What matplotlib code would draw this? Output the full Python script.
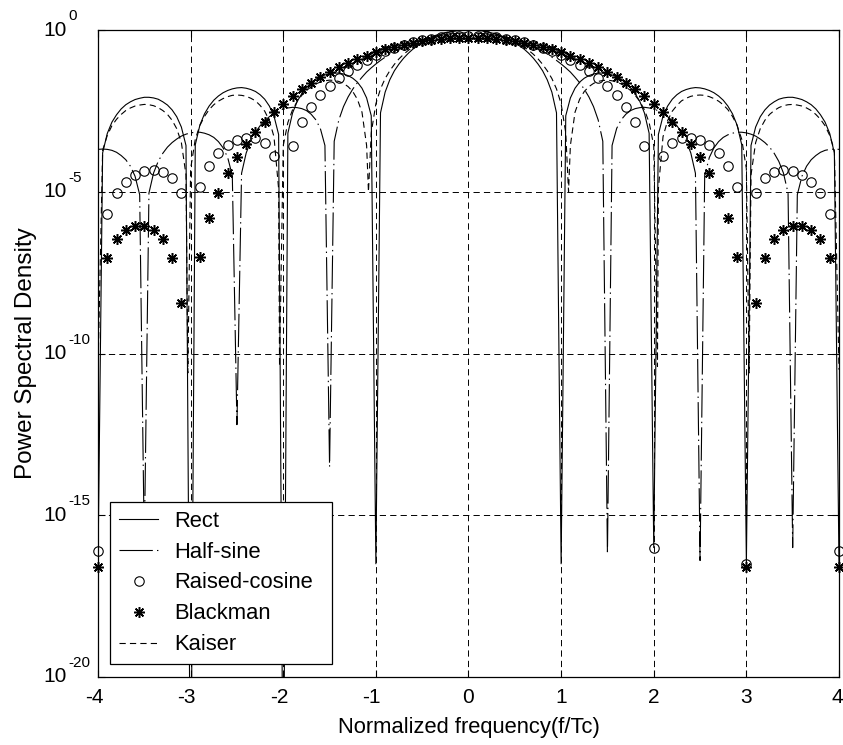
import numpy as np
import matplotlib
matplotlib.use("Agg")
import matplotlib.pyplot as plt
from matplotlib import font_manager
from matplotlib.ticker import FixedLocator, NullLocator, NullFormatter

# ---------------------------------------------------------------------------
# Data: power spectral density of chip pulse shapes, stored as log10(PSD)
# ---------------------------------------------------------------------------
# line series are sampled every 0.05 in f/Tc, marker series every 0.1
line_freq = np.round(np.linspace(-4.0, 4.0, 161), 2)
marker_freq = np.round(np.linspace(-4.0, 4.0, 81), 1)

rect_log = [
    -16.5, -3.80, -3.20, -2.85, -2.62, -2.44, -2.31, -2.22, -2.15, -2.11,
    -2.08, -2.08, -2.10, -2.14, -2.22, -2.32, -2.47, -2.68, -3.00, -3.57,
    -25.0, -3.55, -2.94, -2.59, -2.35, -2.17, -2.04, -1.94, -1.87, -1.82,
    -1.79, -1.78, -1.80, -1.84, -1.90, -2.00, -2.14, -2.35, -2.66, -3.23,
    -25.0, -3.19, -2.57, -2.21, -1.97, -1.78, -1.64, -1.53, -1.45, -1.39,
    -1.35, -1.33, -1.33, -1.36, -1.41, -1.49, -1.61, -1.80, -2.10, -2.65,
    -16.5, -2.56, -1.92, -1.54, -1.26, -1.05, -0.87, -0.72, -0.59, -0.49,
    -0.39, -0.31, -0.24, -0.18, -0.13, -0.09, -0.06, -0.03, -0.01, -0.00,
    0.00, -0.00, -0.01, -0.03, -0.06, -0.09, -0.13, -0.18, -0.24, -0.31,
    -0.39, -0.49, -0.59, -0.72, -0.87, -1.05, -1.26, -1.54, -1.92, -2.56,
    -16.5, -2.65, -2.10, -1.80, -1.61, -1.49, -1.41, -1.36, -1.33, -1.33,
    -1.35, -1.39, -1.45, -1.53, -1.64, -1.78, -1.97, -2.21, -2.57, -3.19,
    -16.0, -3.23, -2.66, -2.35, -2.14, -2.00, -1.90, -1.84, -1.80, -1.78,
    -1.79, -1.82, -1.87, -1.94, -2.04, -2.17, -2.35, -2.59, -2.94, -3.55,
    -16.5, -3.57, -3.00, -2.68, -2.47, -2.32, -2.22, -2.14, -2.10, -2.08,
    -2.08, -2.11, -2.15, -2.22, -2.31, -2.44, -2.62, -2.85, -3.20, -3.80,
    -16.5,
]

half_sine_log = [
    -3.69, -3.68, -3.69, -3.72, -3.78, -3.88, -4.01, -4.21, -4.52, -5.09,
    -16.0, -5.04, -4.42, -4.06, -3.81, -3.62, -3.48, -3.37, -3.28, -3.22,
    -3.18, -3.16, -3.16, -3.19, -3.24, -3.32, -3.45, -3.64, -3.94, -4.50,
    -12.2, -4.43, -3.80, -3.43, -3.16, -2.96, -2.80, -2.68, -2.58, -2.50,
    -2.44, -2.41, -2.39, -2.40, -2.43, -2.49, -2.60, -2.77, -3.04, -3.57,
    -13.5, -3.44, -2.78, -2.37, -2.07, -1.83, -1.63, -1.46, -1.30, -1.17,
    -1.05, -0.94, -0.84, -0.74, -0.66, -0.59, -0.52, -0.45, -0.40, -0.35,
    -0.30, -0.26, -0.22, -0.19, -0.17, -0.14, -0.12, -0.11, -0.10, -0.09,
    -0.09, -0.09, -0.10, -0.11, -0.12, -0.14, -0.17, -0.19, -0.22, -0.26,
    -0.30, -0.35, -0.40, -0.45, -0.52, -0.59, -0.66, -0.74, -0.84, -0.94,
    -1.05, -1.17, -1.30, -1.46, -1.63, -1.83, -2.07, -2.37, -2.78, -3.44,
    -16.2, -3.57, -3.04, -2.77, -2.60, -2.49, -2.43, -2.40, -2.39, -2.41,
    -2.44, -2.50, -2.58, -2.68, -2.80, -2.96, -3.16, -3.43, -3.80, -4.43,
    -16.4, -4.50, -3.94, -3.64, -3.45, -3.32, -3.24, -3.19, -3.16, -3.16,
    -3.18, -3.22, -3.28, -3.37, -3.48, -3.62, -3.81, -4.06, -4.42, -5.04,
    -16.0, -5.09, -4.52, -4.21, -4.01, -3.88, -3.78, -3.72, -3.69, -3.68,
    -3.69,
]

kaiser_log = [
    -10.5, -3.72, -3.26, -2.96, -2.76, -2.61, -2.49, -2.41, -2.35, -2.32,
    -2.30, -2.31, -2.34, -2.40, -2.49, -2.61, -2.79, -3.05, -3.48, -4.48,
    -4.29, -3.38, -2.95, -2.67, -2.46, -2.31, -2.20, -2.12, -2.06, -2.02,
    -2.01, -2.02, -2.05, -2.11, -2.19, -2.33, -2.51, -2.80, -3.30, -4.91,
    -3.57, -2.86, -2.47, -2.21, -2.02, -1.87, -1.76, -1.67, -1.61, -1.57,
    -1.55, -1.56, -1.59, -1.65, -1.75, -1.90, -2.14, -2.54, -3.57, -3.18,
    -2.28, -1.82, -1.50, -1.26, -1.06, -0.89, -0.75, -0.63, -0.52, -0.43,
    -0.35, -0.28, -0.22, -0.16, -0.12, -0.08, -0.05, -0.03, -0.01, -0.00,
    0.00, -0.00, -0.01, -0.03, -0.05, -0.08, -0.12, -0.16, -0.22, -0.28,
    -0.35, -0.43, -0.52, -0.63, -0.75, -0.89, -1.06, -1.26, -1.50, -1.82,
    -2.28, -3.18, -3.57, -2.54, -2.14, -1.90, -1.75, -1.65, -1.59, -1.56,
    -1.55, -1.57, -1.61, -1.67, -1.76, -1.87, -2.02, -2.21, -2.47, -2.86,
    -3.57, -4.91, -3.30, -2.80, -2.51, -2.33, -2.19, -2.11, -2.05, -2.02,
    -2.01, -2.02, -2.06, -2.12, -2.20, -2.31, -2.46, -2.67, -2.95, -3.38,
    -4.29, -4.48, -3.48, -3.05, -2.79, -2.61, -2.49, -2.40, -2.34, -2.31,
    -2.30, -2.32, -2.35, -2.41, -2.49, -2.61, -2.76, -2.96, -3.26, -3.72,
    -10.5,
]
# Kaiser nulls fall between the regular samples
kaiser_null_freq = [-3.03, -2.04, -1.08, 1.08, 2.04, 3.03]
kaiser_null_log = [-10.6, -10.4, -5.0, -5.0, -10.4, -10.6]

raised_cos_log = [
    -16.1, -5.68, -5.05, -4.70, -4.48, -4.36, -4.32, -4.38, -4.57, -5.04,
    -16.5, -4.85, -4.20, -3.81, -3.56, -3.41, -3.33, -3.34, -3.49, -3.90,
    -16.0, -3.58, -2.84, -2.37, -2.01, -1.72, -1.47, -1.26, -1.08, -0.92,
    -0.78, -0.66, -0.55, -0.46, -0.38, -0.32, -0.27, -0.23, -0.20, -0.18,
    -0.18, -0.18, -0.20, -0.23, -0.27, -0.32, -0.38, -0.46, -0.55, -0.66,
    -0.78, -0.92, -1.08, -1.26, -1.47, -1.72, -2.01, -2.37, -2.84, -3.58,
    -16.0, -3.90, -3.49, -3.34, -3.33, -3.41, -3.56, -3.81, -4.20, -4.85,
    -16.5, -5.04, -4.57, -4.38, -4.32, -4.36, -4.48, -4.70, -5.05, -5.68,
    -16.1,
]

blackman_log = [
    -16.6, -7.04, -6.47, -6.19, -6.06, -6.06, -6.18, -6.47, -7.05, -8.45,
    -16.6, -7.01, -5.81, -5.03, -4.42, -3.93, -3.51, -3.15, -2.83, -2.54,
    -2.28, -2.05, -1.83, -1.64, -1.46, -1.30, -1.15, -1.02, -0.90, -0.79,
    -0.69, -0.60, -0.52, -0.45, -0.40, -0.35, -0.31, -0.28, -0.25, -0.24,
    -0.24, -0.24, -0.25, -0.28, -0.31, -0.35, -0.40, -0.45, -0.52, -0.60,
    -0.69, -0.79, -0.90, -1.02, -1.15, -1.30, -1.46, -1.64, -1.83, -2.05,
    -2.28, -2.54, -2.83, -3.15, -3.51, -3.93, -4.42, -5.03, -5.81, -7.01,
    -16.6, -8.45, -7.05, -6.47, -6.18, -6.06, -6.06, -6.19, -6.47, -7.04,
    -16.6,
]

series_labels = ["Rect", "Half-sine", "Raised-cosine", "Blackman", "Kaiser"]
x_tick_values = [-4, -3, -2, -1, 0, 1, 2, 3, 4]
x_tick_labels = ["-4", "-3", "-2", "-1", "0", "1", "2", "3", "4"]
y_decades = [-20, -15, -10, -5, 0]

# ---------------------------------------------------------------------------
# Styling
# ---------------------------------------------------------------------------
available = {f.name for f in font_manager.fontManager.ttflist}
if "Liberation Sans Narrow" in available:
    family, k = "Liberation Sans Narrow", 1.16
else:
    family, k = "Liberation Sans", 1.0
plt.rcParams["font.family"] = [family, "DejaVu Sans"]
plt.rcParams["axes.unicode_minus"] = False
plt.rcParams["lines.scale_dashes"] = False

FS_TICK = 15.0 * k
FS_EXP = 11.0 * k
FS_XLABEL = 15.8 * k
FS_YLABEL = 17.5 * k
FS_LEGEND = 15.8 * k

W, H = 843, 745
fig = plt.figure(figsize=(W / 100, H / 100), dpi=100)
fig.patch.set_facecolor("white")
ax_left, ax_right, ax_top, ax_bottom = 98, 839, 30, 677
ax_w, ax_h = ax_right - ax_left, ax_bottom - ax_top
ax = fig.add_axes([ax_left / W, 1 - ax_bottom / H, ax_w / W, ax_h / H])


def to_psd(values):
    return np.power(10.0, np.asarray(values, dtype=float))


LW = 0.8
h_rect, = ax.plot(line_freq, to_psd(rect_log), color="k", lw=LW, ls="-")
h_half, = ax.plot(line_freq, to_psd(half_sine_log), color="k", lw=LW,
                  dashes=(24, 3, 1, 3))
h_rc, = ax.plot(marker_freq, to_psd(raised_cos_log), ls="none", marker="o",
                ms=6.8, mfc="none", mec="k", mew=0.8, clip_on=False)
h_bk, = ax.plot(marker_freq, to_psd(blackman_log), ls="none",
                marker=(8, 2, 0), ms=7.8, mec="k", mew=1.1, clip_on=False)

kaiser_freq = np.concatenate([line_freq, kaiser_null_freq])
kaiser_vals = np.concatenate([kaiser_log, kaiser_null_log])
order = np.argsort(kaiser_freq, kind="stable")
h_kai, = ax.plot(kaiser_freq[order], to_psd(kaiser_vals[order]), color="k",
                 lw=LW, dashes=(4.5, 3))

ax.set_yscale("log")
ax.set_xlim(-4, 4)
ax.set_ylim(1e-20, 1)

ax.xaxis.set_major_locator(FixedLocator(x_tick_values))
ax.xaxis.set_major_formatter(NullFormatter())
ax.yaxis.set_major_locator(FixedLocator([10.0 ** d for d in y_decades]))
ax.yaxis.set_major_formatter(NullFormatter())
ax.yaxis.set_minor_locator(NullLocator())
ax.yaxis.set_minor_formatter(NullFormatter())
ax.xaxis.set_minor_locator(NullLocator())

ax.grid(True, which="major", color="k", lw=0.7, ls=(0, (4.5, 3)))
ax.tick_params(axis="both", which="major", direction="in", length=5,
               width=0.8, top=True, right=True, colors="k")
for sp in ax.spines.values():
    sp.set_linewidth(0.9)
    sp.set_color("k")

# frequency tick labels; negative labels sit with the digit over the tick
for v, lab in zip(x_tick_values, x_tick_labels):
    dx = -4 if v < 0 else 0
    if v == x_tick_values[-1]:
        dx = -2
    ax.annotate(lab, xy=(v, 0), xycoords=("data", "axes fraction"),
                xytext=(dx, -11), textcoords="offset pixels",
                ha="center", va="top", fontsize=FS_TICK, color="k",
                annotation_clip=False)

# decade labels written as a base with a raised exponent
for d in y_decades:
    ax.annotate("10", xy=(0, 10.0 ** d), xycoords=("axes fraction", "data"),
                xytext=(-31, 0), textcoords="offset pixels",
                ha="right", va="center", fontsize=FS_TICK, color="k",
                annotation_clip=False)
    ax.annotate(str(d), xy=(0, 10.0 ** d), xycoords=("axes fraction", "data"),
                xytext=(-30, 14), textcoords="offset pixels",
                ha="left", va="center", fontsize=FS_EXP, color="k",
                annotation_clip=False)

ax.set_xlabel("Normalized frequency(f/Tc)", fontsize=FS_XLABEL, color="k")
ax.xaxis.set_label_coords(0.5, -40 / ax_h)
ax.set_ylabel("Power Spectral Density", fontsize=FS_YLABEL, color="k")
ax.yaxis.set_label_coords(-61 / ax_w, 0.5)

leg = ax.legend([h_rect, h_half, h_rc, h_bk, h_kai], series_labels,
                loc="lower left", mode="expand",
                bbox_to_anchor=(12 / ax_w, 13 / ax_h, 222 / ax_w, 160 / ax_h),
                borderaxespad=0, frameon=True, fancybox=False,
                edgecolor="k", framealpha=1, fontsize=FS_LEGEND,
                handlelength=1.8, handletextpad=0.75, labelspacing=0.45,
                borderpad=0.4, numpoints=1)
leg.get_frame().set_linewidth(0.9)

fig.savefig("out.png", dpi=100, facecolor="white")
